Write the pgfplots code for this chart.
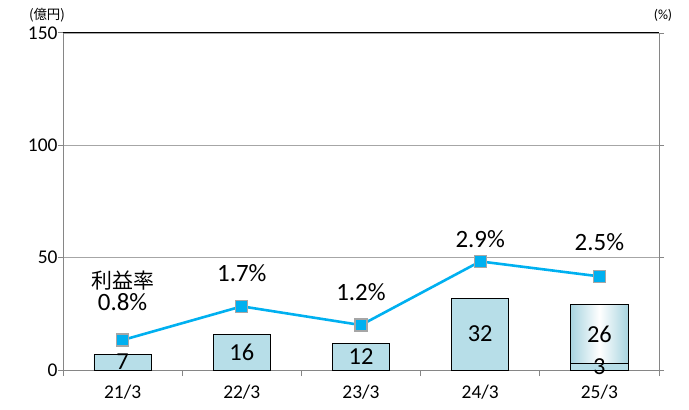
\documentclass[border=0pt]{standalone}
\usepackage{pgfplots}
\pgfplotsset{compat=1.18}
\usepackage{fontspec}
\setmainfont{Carlito}
\newfontfamily\cjk{Noto Sans CJK JP}
\definecolor{barblue}{HTML}{B7DEE8}
\definecolor{gradedge}{HTML}{A8D4E0}
\definecolor{linecyan}{HTML}{00B0F0}
\definecolor{axgray}{HTML}{868686}
\definecolor{gridgray}{HTML}{A6A6A6}
\begin{document}
\begin{tikzpicture}
\path[use as bounding box] (-63bp,-40bp) rectangle (626bp,370bp);
\begin{axis}[
  at={(0,0)}, anchor=south west,
  scale only axis, width=596bp, height=337bp,
  xmin=-0.5, xmax=4.5, ymin=0, ymax=150,
  axis x line*=bottom, axis y line*=left,
  axis line style={axgray, line width=1bp},
  xtick={0,1,2,3,4},
  xticklabels={21/3,22/3,23/3,24/3,25/3},
  minor xtick={-0.5,0.5,1.5,2.5,3.5,4.5},
  major x tick style={draw=none},
  minor x tick style={axgray, line width=1bp},
  minor tick length=6bp,
  ytick={0,50,100,150},
  y tick style={axgray, line width=1bp},
  major tick length=5bp,
  tick align=outside,
  ymajorgrids, grid style={gridgray, line width=0.8bp},
  tick label style={font=\fontsize{19.5}{20}\selectfont, text=black},
  xticklabel style={yshift=-6bp},
  yticklabel style={xshift=3bp},
  /pgf/number format/assume math mode=true,
  clip=false,
]
\addplot[ybar, bar width=0.48, bar shift=0pt, draw=black, line width=0.8bp, fill=barblue]
  coordinates {(0,7) (1,16) (2,12) (3,32)};
\addplot[ybar, bar width=0.48, bar shift=0pt, draw=black, line width=0.8bp,
  left color=gradedge, right color=gradedge, middle color=white]
  coordinates {(4,29)};
\addplot[ybar, bar width=0.48, bar shift=0pt, draw=black, line width=0.8bp, fill=barblue]
  coordinates {(4,3)};
\draw[black, line width=1bp] (rel axis cs:0,1) -- (rel axis cs:1,1);
\begin{scope}[every node/.style={font=\fontsize{24.5}{25}\selectfont, inner sep=0pt}]
\node at (axis cs:0,3.5) {7};
\node at (axis cs:1,8) {16};
\node at (axis cs:2,6) {12};
\node at (axis cs:3,16) {32};
\node at (axis cs:4,16) {26};
\node at (axis cs:4,1.5) {3};
\end{scope}
\begin{scope}[every node/.style={font=\fontsize{25}{26}\selectfont, inner sep=0pt}]
\node at (axis cs:0,30.3) {0.8\%};
\node at (axis cs:1,43.2) {1.7\%};
\node at (axis cs:2,34.7) {1.2\%};
\node at (axis cs:3,58.3) {2.9\%};
\node at (axis cs:4,57) {2.5\%};
\end{scope}
\node[font=\cjk\fontsize{21}{22}\selectfont, inner sep=0pt] at (axis cs:0,39.6) {利益率};
\node[font=\cjk\fontsize{13.5}{14}\selectfont, inner sep=0pt] at (-16bp,355bp) {(億円)};
\node[font=\fontsize{14}{15}\selectfont, inner sep=0pt] at (600bp,355bp) {(\%)};
\end{axis}
\begin{axis}[
  at={(0,0)}, anchor=south west,
  scale only axis, width=596bp, height=337bp,
  xmin=-0.5, xmax=4.5, ymin=0, ymax=9,
  axis x line=none, axis y line*=right,
  axis line style={axgray, line width=1bp},
  ytick={0,3,6,9}, yticklabels={},
  y tick style={axgray, line width=1bp},
  major tick length=5bp, tick align=outside,
  clip=false,
]
\addplot[linecyan, line width=2.6bp, mark=square*,
  mark options={fill=linecyan, draw=gridgray, line width=1.2bp}, mark size=6bp]
  coordinates {(0,0.8) (1,1.7) (2,1.2) (3,2.9) (4,2.5)};
\end{axis}
\end{tikzpicture}
\end{document}
